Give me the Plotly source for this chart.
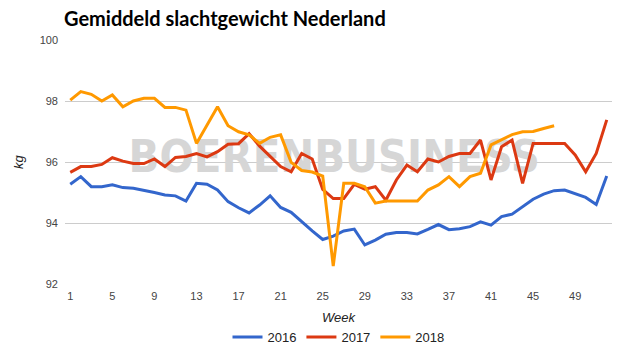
import plotly.graph_objects as go

weeks = list(range(1, 53))

kg_2016 = [95.27, 95.52, 95.19, 95.19, 95.25, 95.16, 95.14, 95.08, 95.0, 94.92, 94.89, 94.72,
           95.3, 95.27, 95.08, 94.7, 94.5, 94.33, 94.59, 94.89, 94.51, 94.35, 94.04, 93.74,
           93.46, 93.57, 93.74, 93.8, 93.28, 93.44, 93.63, 93.69, 93.69, 93.64, 93.79, 93.95,
           93.78, 93.81, 93.88, 94.04, 93.93, 94.21, 94.29, 94.54, 94.78, 94.95, 95.06, 95.08,
           94.95, 94.84, 94.61, 95.54]

kg_2017 = [95.66, 95.85, 95.85, 95.92, 96.14, 96.03, 95.95, 95.95, 96.1, 95.85, 96.15, 96.18,
           96.28, 96.17, 96.34, 96.58, 96.6, 96.93, 96.52, 96.17, 95.85, 95.68, 96.28, 96.1,
           95.1, 94.8, 94.8, 95.27, 95.11, 95.19, 94.75, 95.41, 95.9, 95.68, 96.1, 96.0,
           96.18, 96.28, 96.28, 96.72, 95.41, 96.5, 96.72, 95.3, 96.61, 96.61, 96.61, 96.61,
           96.23, 95.68, 96.28, 97.38]

kg_2018 = [98.03, 98.31, 98.22, 98.0, 98.2, 97.81, 98.0, 98.09, 98.09, 97.79, 97.79, 97.7,
           96.61, 97.21, 97.81, 97.19, 96.99, 96.89, 96.61, 96.81, 96.89, 95.99, 95.72, 95.67,
           95.54, 92.59, 95.3, 95.3, 95.19, 94.65, 94.72, 94.72, 94.72, 94.72, 95.08, 95.25,
           95.52, 95.19, 95.52, 95.63, 96.56, 96.72, 96.9, 96.99, 97.0, 97.1, 97.19]

series = [("2016", kg_2016, "#3366cc"), ("2017", kg_2017, "#dc3912"), ("2018", kg_2018, "#ff9900")]

x_ticks = list(range(1, 53, 4))
y_ticks = [92, 94, 96, 98, 100]

fig = go.Figure()

# watermark (behind the lines)
fig.add_trace(go.Scatter(
    x=[26.1], y=[96.03], mode="text", text=["BOERENBUSINESS"],
    textfont=dict(family="DejaVu Sans Condensed, Liberation Sans", size=45,
                  color="#d6d6d6", weight="bold"),
    hoverinfo="skip", showlegend=False))

for name, vals, color in series:
    fig.add_trace(go.Scatter(
        x=weeks[:len(vals)], y=vals, mode="lines", name=name,
        line=dict(color=color, width=3)))

fig.update_layout(
    width=625, height=355,
    margin=dict(l=65, r=13, t=40, b=71),
    paper_bgcolor="white", plot_bgcolor="white",
    font=dict(family="Liberation Sans", size=11, color="#444444"),
    title=dict(text="<b>Gemiddeld slachtgewicht Nederland</b>",
               font=dict(family="Lato", size=20, color="#000000"),
               x=64 / 625, xanchor="left", y=1 - 19 / 355, yanchor="middle",
               xref="container", yref="container"),
    xaxis=dict(range=[0.5, 52.5], tickvals=x_ticks, showgrid=False, zeroline=False,
               showline=False, ticks="", tickfont=dict(size=11, color="#444444"),
               automargin=False, ticklabelstandoff=4),
    yaxis=dict(range=[92, 100], tickvals=y_ticks, showgrid=True, gridcolor="#cccccc",
               gridwidth=1, zeroline=False, showline=False, ticks="",
               tickfont=dict(size=11, color="#444444"), automargin=False,
               ticklabelstandoff=6),
    legend=dict(orientation="h", x=0.5, xanchor="center", y=1 - 337 / 355, yanchor="middle",
                yref="container", font=dict(size=13, color="#222222"), itemwidth=30),
    showlegend=True,
    annotations=[
        dict(text="<i>Week</i>", xref="paper", yref="paper", x=0.5, y=-33 / 244,
             xanchor="center", yanchor="middle", showarrow=False,
             font=dict(size=13, color="#222222")),
        dict(text="<i>kg</i>", xref="paper", yref="paper", x=-47 / 547, y=0.5,
             xanchor="center", yanchor="middle", showarrow=False, textangle=-90,
             font=dict(size=13, color="#222222")),
    ],
)

fig.write_html("out.html")
